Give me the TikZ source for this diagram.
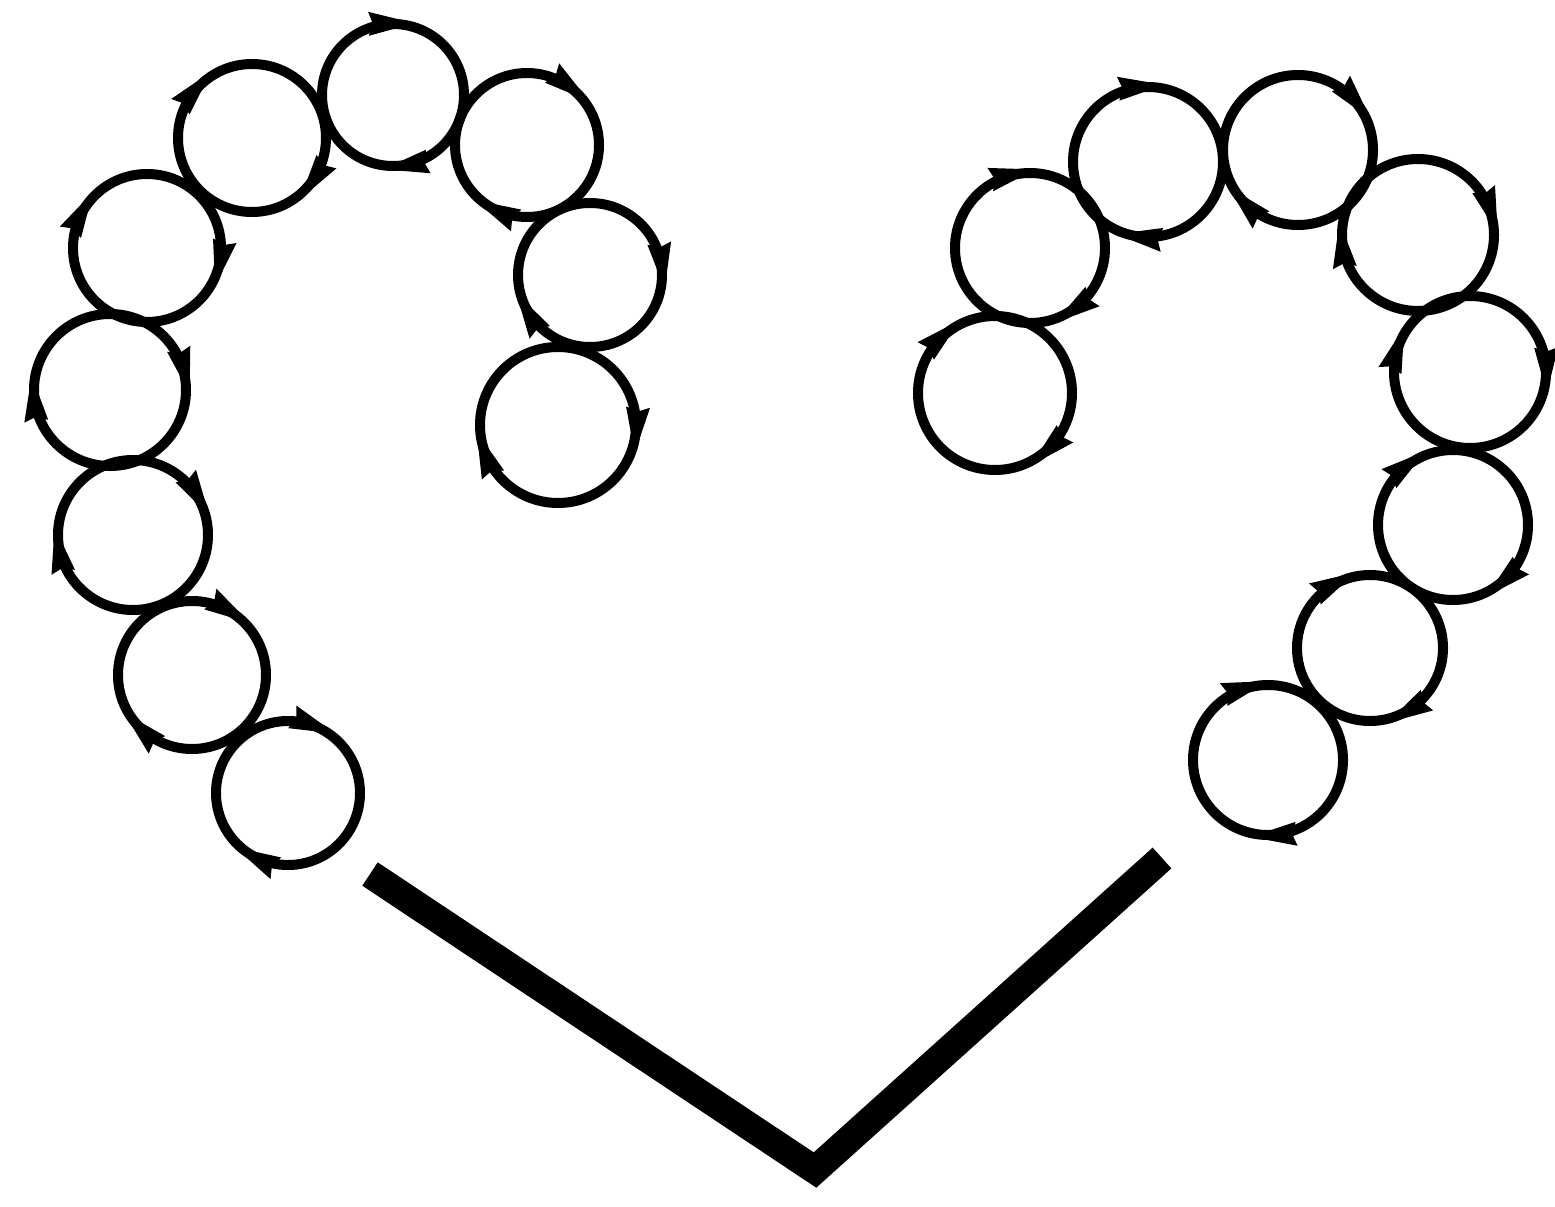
\documentclass[tikz,border=0pt]{standalone}
\begin{document}
\begin{tikzpicture}[x=1pt,y=-1pt,
  ring/.style={line width=10pt,draw=black},
  vline/.style={line width=28pt,line join=miter}]
\useasboundingbox (0,0) rectangle (1555,1207);
\newcommand\tipon[4]{%
  \begin{scope}[shift={(#1,#2)},rotate=-#4]
    \fill (#3,24) -- (#3+13,-22) -- (#3+2,-18) -- (#3-11,-22) -- cycle;
  \end{scope}}
\newcommand\ringat[5]{%
  \draw[ring] (#1,#2) circle (#3);
  \tipon{#1}{#2}{#3}{#4}\tipon{#1}{#2}{#3}{#5}}
% left chain
\ringat{393}{95}{71}{79}{268}
\ringat{252}{138}{74}{220}{34}
\ringat{147}{248}{74}{208}{11}
\ringat{110}{390}{76}{173}{345}
\ringat{133}{535}{75}{168}{328}
\ringat{192}{675}{74}{133}{300}
\ringat{288}{793}{72}{116}{290}
\ringat{527}{145}{72}{115}{306}
\ringat{590}{275}{72}{148}{352}
\ringat{558}{425}{78}{158}{3}
% right chain
\ringat{1030}{248}{75}{54}{256}
\ringat{1148}{162}{75}{96}{264}
\ringat{1298}{150}{75}{134}{319}
\ringat{1418}{235}{76}{172}{341}
\ringat{1470}{372}{76}{197}{358}
\ringat{1453}{525}{75}{47}{232}
\ringat{1370}{648}{73}{59}{241}
\ringat{1268}{760}{75}{85}{252}
\ringat{995}{393}{77}{46}{227}
% V
\coordinate (va) at (370,874);
\coordinate (vb) at (815,1170);
\coordinate (vc) at (1162,858);
\draw[vline] (va) -- (vb) -- (vc);
\end{tikzpicture}
\end{document}
